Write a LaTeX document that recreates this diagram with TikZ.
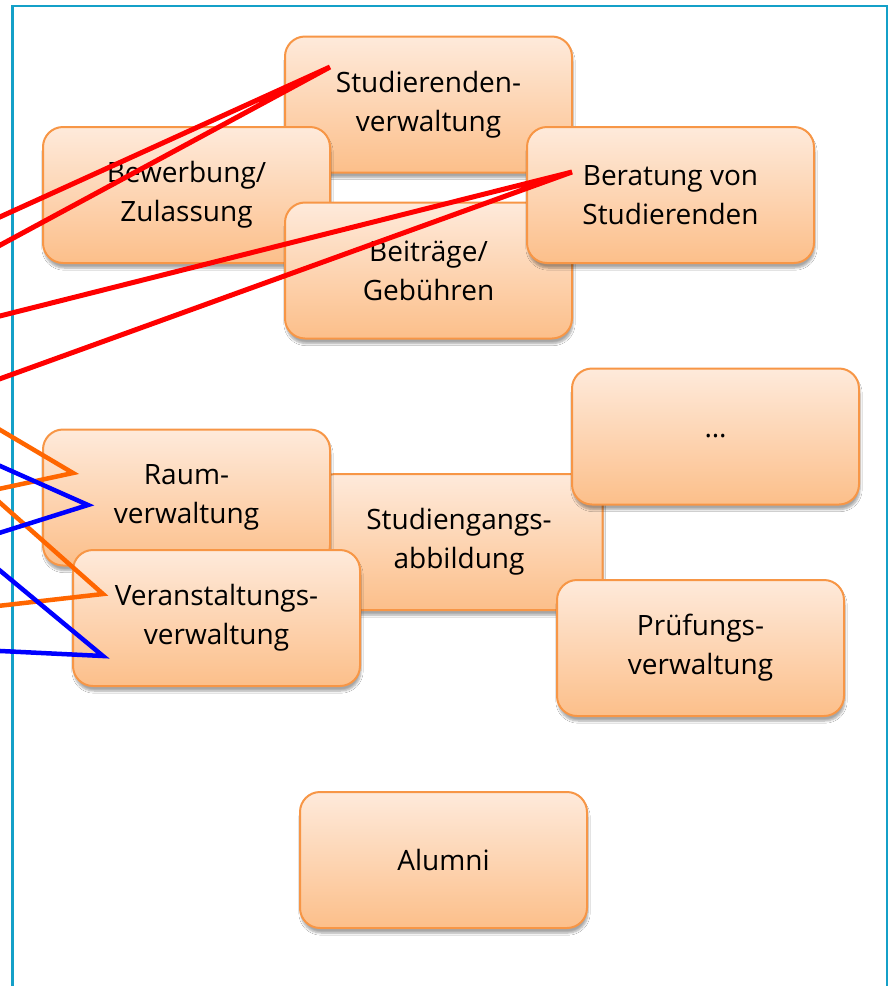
\documentclass[tikz,border=0pt]{standalone}
\usepackage{fontspec}
\setmainfont{Open Sans}
\usetikzlibrary{shadows.blur}
\definecolor{boxtop}{RGB}{254,234,219}
\definecolor{boxbot}{RGB}{252,191,138}
\definecolor{boxedge}{RGB}{247,150,70}
\definecolor{framecol}{RGB}{20,160,200}
\definecolor{linkred}{RGB}{255,0,0}
\definecolor{linkorange}{RGB}{255,102,0}
\definecolor{linkblue}{RGB}{0,0,255}
\tikzset{
  procbox/.style={draw=boxedge, line width=2pt, rounded corners=20pt,
    top color=boxtop, bottom color=boxbot,
    minimum width=287pt, minimum height=136pt, inner sep=0pt,
    align=center, font=\fontsize{28}{39}\selectfont,
    blur shadow={shadow xshift=1pt, shadow yshift=-5pt, shadow blur steps=6, shadow opacity=35}},
  redlink/.style={draw=linkred, line width=5pt},
  orangelink/.style={draw=linkorange, line width=4.5pt},
  bluelink/.style={draw=linkblue, line width=4.5pt},
  framestyle/.style={draw=framecol, line width=2.5pt}
}
\begin{document}
\begin{tikzpicture}[x=1pt,y=-1pt]
\useasboundingbox (0,0) rectangle (892,986);
\clip (0,0) rectangle (892,986);
\fill[white] (0,0) rectangle (892,986);

% outer frame
\draw[framestyle] (12.5,1000) -- (12.5,6) -- (887,6) -- (887,1000);

% upper group of boxes
\node[procbox] (stud)  at (428.5,104.5) {Studierenden-\\verwaltung};
\node[procbox] (bew)   at (186.5,195)   {Bewerbung/\\Zulassung};
\node[procbox] (beit)  at (428.5,270.5) {Beiträge/\\Gebühren};
\node[procbox] (berat) at (670.5,195)   {Beratung von\\Studierenden};

% middle group of boxes
\node[procbox] (studg) at (459,542)     {Studiengangs-\\abbildung};
\node[procbox] (raum)  at (186.5,497.5) {Raum-\\verwaltung};
\node[procbox] (dots)  at (715.5,436.5) {\dots};
\node[procbox] (veran) at (216.5,618)   {Veranstaltungs-\\verwaltung};
\node[procbox] (pruef) at (700.5,648)   {Prüfungs-\\verwaltung};

% bottom box
\node[procbox] (alumni) at (443.5,860)  {Alumni};

% anchor points of the links inside the boxes
\coordinate (studP)  at (330,67);
\coordinate (beratP) at (572,172);
\coordinate (raumO)  at (73,473);
\coordinate (raumB)  at (88,505);
\coordinate (veranO) at (103,594);
\coordinate (veranB) at (103,656);

% free ends beyond the left edge
\coordinate (r1) at (-20,226);
\coordinate (r2) at (-20,256);
\coordinate (r3) at (-20,321);
\coordinate (r4) at (-20,386);
\coordinate (o1) at (-20,418);
\coordinate (o2) at (-20,493);
\coordinate (o3) at (-20,485);
\coordinate (o4) at (-20,608);
\coordinate (b1) at (-20,457);
\coordinate (b2) at (-20,539);
\coordinate (b3) at (-20,554);
\coordinate (b4) at (-20,650);

% links
\draw[redlink] (r1) -- (studP) -- (r2);
\draw[redlink] (r3) -- (beratP) -- (r4);
\draw[orangelink] (o1) -- (raumO) -- (o2);
\draw[orangelink] (o3) -- (veranO) -- (o4);
\draw[bluelink] (b1) -- (raumB) -- (b2);
\draw[bluelink] (b3) -- (veranB) -- (b4);
\end{tikzpicture}
\end{document}
